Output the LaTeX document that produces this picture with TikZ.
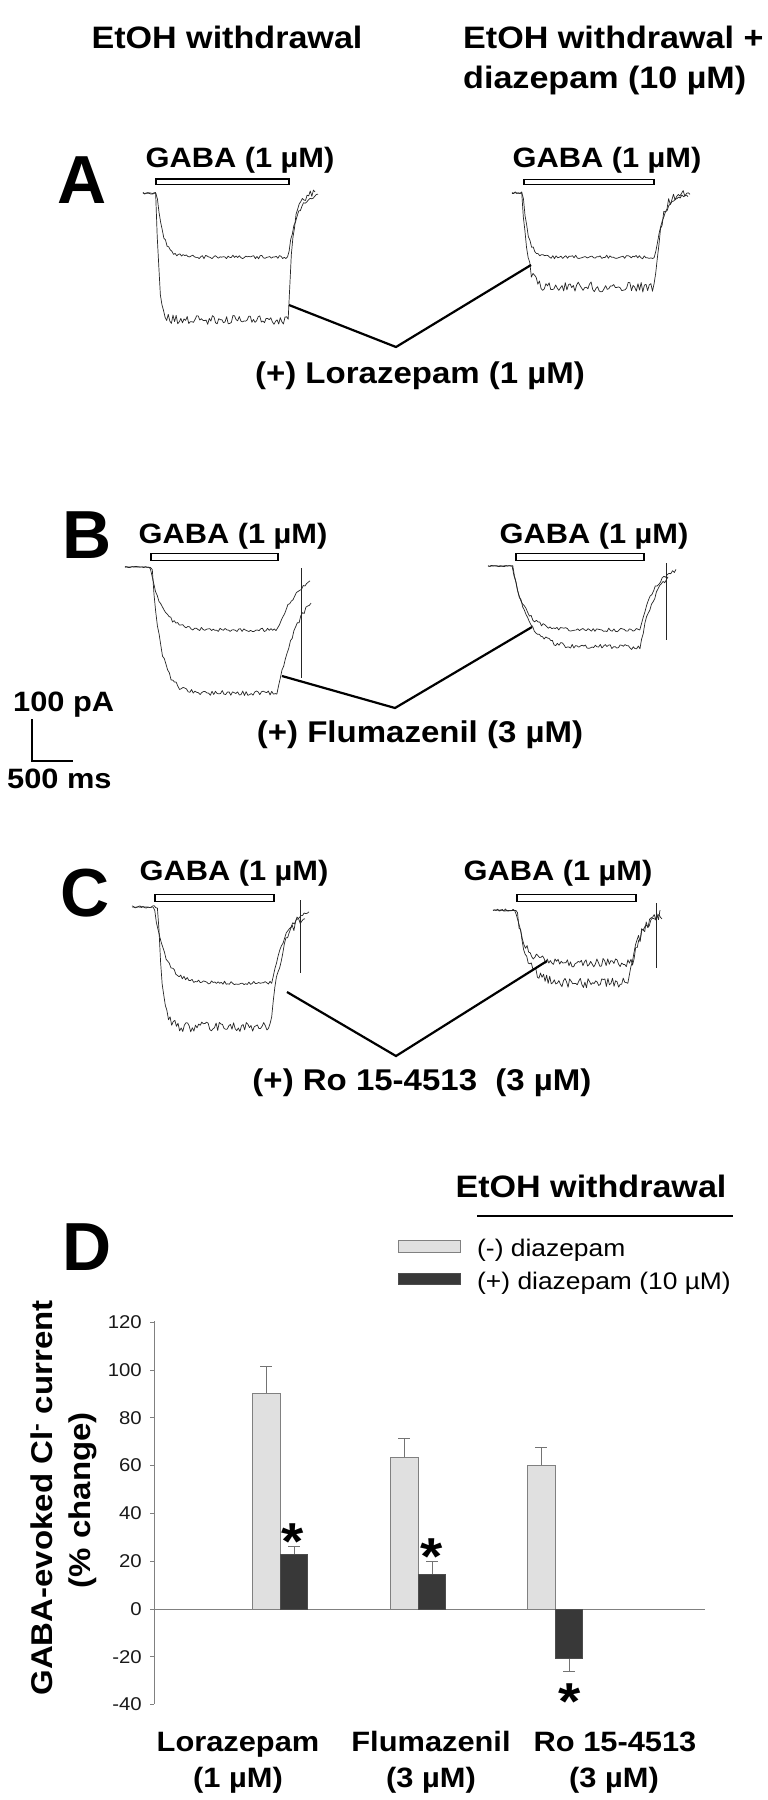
\documentclass[tikz,border=0pt]{standalone}
\usepackage{fontspec}
\setmainfont{Liberation Sans}[FakeStretch=1.1]
\newfontfamily\letterfont{Liberation Sans}
\newcommand\gtrace[9]{%
  \draw[trc] plot[domain=#1:#4, samples=110, variable=\t]
    (\t, {#5 + (#6-#5)*( (\t<#2) ? 0 : ( (\t<#3) ? (1-exp(-max(\t-#2,0)/#7)) : ((1-exp(-(#3-#2)/#7))*exp(-max(\t-#3,0)/#8)) ) ) + #9*rand*( (\t<#2) ? 0.25 : 1 )});
}
\tikzset{
  ttl/.style={font=\fontsize{31}{36}\selectfont\bfseries, inner sep=0},
  lbl/.style={font=\fontsize{28}{32}\selectfont\bfseries, inner sep=0, anchor=base},
  drug/.style={font=\fontsize{30}{34}\selectfont\bfseries, inner sep=0, anchor=base},
  panel/.style={font=\letterfont\fontsize{68}{70}\selectfont\bfseries, inner sep=0, anchor=base west},
  gababar/.style={draw=black, line width=1.8pt, fill=white},
  trc/.style={line width=0.7pt, black!85, line join=round},
  artifact/.style={line width=0.7pt, black!85},
  conn/.style={line width=2.2pt, black},
  ticklbl/.style={font=\fontsize{18.5}{20}\selectfont, inner sep=0, anchor=east, text=black!90},
  axis/.style={line width=1pt, black!50},
  lightbar/.style={fill=black!12, draw=black!50, line width=1pt},
  darkbar/.style={fill=black!78, draw=black!70, line width=1pt},
  errbar/.style={line width=1pt, black!55},
  star/.style={font=\fontsize{52}{52}\selectfont\bfseries, inner sep=0, anchor=base},
  legtxt/.style={font=\fontsize{24}{28}\selectfont, inner sep=0, anchor=base west},
  ylab/.style={font=\fontsize{30}{34}\selectfont\bfseries, inner sep=0, anchor=base, rotate=90},
}
\begin{document}
\begin{tikzpicture}[x=1pt, y=-1pt]
\useasboundingbox (0,0) rectangle (768,1800);
\fill[white] (0,0) rectangle (768,1800);
\pgfmathsetseed{12}

% titles
\node[ttl, anchor=base] (t1) at (227,48) {EtOH withdrawal};
\node[ttl, anchor=base west] (t2) at (463,48) {EtOH withdrawal +};
\node[ttl, anchor=base west] (t3) at (463,88) {diazepam (10 µM)};

% ---------------- Panel A
\node[panel] (pA) at (57,203) {A};
\node[lbl] (gA1) at (240,167) {GABA (1 µM)};
\node[lbl] (gA2) at (607,167) {GABA (1 µM)};
\draw[gababar] (156,179) rectangle (289,184.5);
\draw[gababar] (524,179.5) rectangle (654,184.5);
\gtrace{143}{157}{288}{318}{193}{257}{6}{9}{1.8}
\gtrace{143}{156}{288}{315}{193}{320}{3}{5}{4.5}
\gtrace{512}{523}{655}{690}{193}{257}{5}{9}{1.8}
\gtrace{512}{522}{655}{688}{193}{287}{5}{6}{5}
\coordinate (a1) at (289,305);
\coordinate (av) at (396,347);
\coordinate (a2) at (531,265);
\draw[conn] (a1) -- (av) -- (a2);
\node[drug] (dA) at (420,383) {(+) Lorazepam (1 µM)};

% ---------------- Panel B
\node[panel] (pB) at (62,558) {B};
\node[lbl] (gB1) at (233,543) {GABA (1 µM)};
\node[lbl] (gB2) at (594,543) {GABA (1 µM)};
\draw[gababar] (151,553.5) rectangle (278,560.5);
\draw[gababar] (516,553.5) rectangle (644,560.5);
\gtrace{125}{150}{277}{310}{567}{630}{12}{23}{1.8}
\gtrace{125}{152}{277}{311}{567}{693}{9}{26}{2.5}
\draw[artifact] (301,568) -- (301,678);
\gtrace{488}{512}{640}{676}{566}{630}{12}{14}{1.8}
\gtrace{488}{513}{640}{668}{566}{647}{14}{15}{2.5}
\draw[artifact] (666,563) -- (666,640);
\coordinate (b1) at (282,676);
\coordinate (bv) at (395,708);
\coordinate (b2) at (532,627);
\draw[conn] (b1) -- (bv) -- (b2);
\node[drug] (dB) at (420,742) {(+) Flumazenil (3 µM)};

% scale bar
\node[lbl, anchor=base west] (s1) at (13,711) {100 pA};
\node[lbl, anchor=base west] (s2) at (7,788) {500 ms};
\coordinate (sb1) at (32,719);
\coordinate (sb2) at (32,761);
\coordinate (sb3) at (73,761);
\draw[line width=1.6pt] (sb1) -- (sb2) -- (sb3);

% ---------------- Panel C
\node[panel] (pC) at (60,916) {C};
\node[lbl] (gC1) at (234,880) {GABA (1 µM)};
\node[lbl] (gC2) at (558,880) {GABA (1 µM)};
\draw[gababar] (155,894.5) rectangle (274,901.5);
\draw[gababar] (517,894.5) rectangle (636,901.5);
\gtrace{132}{154}{272}{309}{907}{983}{11}{14}{1.8}
\gtrace{132}{158}{270}{305}{907}{1027}{4}{13}{5}
\draw[artifact] (300,900) -- (300,973);
\gtrace{493}{515}{632}{662}{910}{963}{10}{12}{4.5}
\gtrace{493}{517}{628}{660}{910}{983}{10}{12}{5}
\draw[artifact] (656,903) -- (656,968);
\coordinate (c1) at (287,992);
\coordinate (cv) at (396,1056);
\coordinate (c2) at (547,961);
\draw[conn] (c1) -- (cv) -- (c2);
\node[drug] (dC) at (422,1090) {(+) Ro 15-4513\ \ (3 µM)};

% ---------------- Panel D
\node[panel] (pD) at (62,1270) {D};
\node[ttl, anchor=base] (t4) at (591,1197) {EtOH withdrawal};
\coordinate (h1) at (477,1216);
\coordinate (h2) at (733,1216);
\draw[line width=2pt] (h1) -- (h2);
\draw[lightbar] (398,1240) rectangle (460,1252);
\draw[darkbar] (398,1273) rectangle (460,1284);
\node[legtxt] (l1) at (477,1256) {(-) diazepam};
\node[legtxt] (l2) at (477,1289) {(+) diazepam (10 µM)};

% axes: 0 at y=1609, 1 unit = 2.39 px
\draw[axis] (154,1321) -- (154,1704);
\draw[axis] (154,1609) -- (705,1609);
\foreach \v in {120,100,80,60,40,20,0,-20,-40}{
  \draw[axis] (150,{1609-2.39*\v}) -- (154,{1609-2.39*\v});
  \node[ticklbl] at (142,{1609-2.39*\v}) {\v};
}
\node[ylab] (y1) at (52,1498) {GABA-evoked Cl\textsuperscript{-} current};
\node[ylab] (y2) at (90,1500) {(\% change)};

% bars
\foreach \xl/\vl/\el/\vd/\ed in {252/90/101.5/23/26, 390/63.5/71.5/14.5/20, 527/60/67.5/-20.5/-26}{
  \draw[errbar] ({\xl+14},{1609-2.39*\vl}) -- ({\xl+14},{1609-2.39*\el});
  \draw[errbar] ({\xl+8},{1609-2.39*\el}) -- ({\xl+20},{1609-2.39*\el});
  \draw[errbar] ({\xl+42},{1609-2.39*\vd}) -- ({\xl+42},{1609-2.39*\ed});
  \draw[errbar] ({\xl+36},{1609-2.39*\ed}) -- ({\xl+48},{1609-2.39*\ed});
  \draw[lightbar] (\xl,1609) rectangle ({\xl+28},{1609-2.39*\vl});
  \draw[darkbar] ({\xl+28},1609) rectangle ({\xl+55},{1609-2.39*\vd});
}
\node[star] (s1a) at (293,1559) {*};
\node[star] (s2a) at (432,1574) {*};
\node[star] (s3a) at (570,1719) {*};

% x labels
\node[lbl] (x1) at (238,1751) {Lorazepam};
\node[lbl] (x1b) at (238,1787) {(1 µM)};
\node[lbl] (x2) at (431,1751) {Flumazenil};
\node[lbl] (x2b) at (431,1787) {(3 µM)};
\node[lbl] (x3) at (615,1751) {Ro 15-4513};
\node[lbl] (x3b) at (614,1787) {(3 µM)};
\end{tikzpicture}
\end{document}
